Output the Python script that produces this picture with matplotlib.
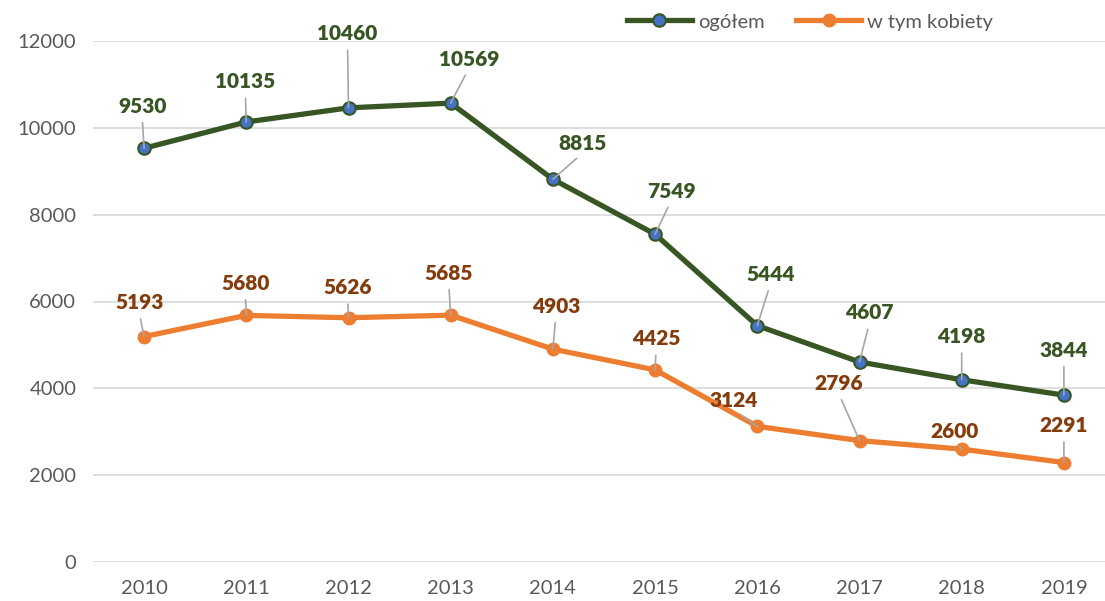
import matplotlib.pyplot as plt

# ========== DATA ==========
years = [2010, 2011, 2012, 2013, 2014, 2015, 2016, 2017, 2018, 2019]
total = [9530, 10135, 10460, 10569, 8815, 7549, 5444, 4607, 4198, 3844]
women = [5193, 5680, 5626, 5685, 4903, 4425, 3124, 2796, 2600, 2291]

# label offsets (pixels) from the point, like Excel's dragged data labels
total_off = [(-2, 42), (-1, 40), (-1, 74), (18, 44), (30, 36), (16, 43), (13, 51), (10, 49), (0, 43), (0, 45)]
women_off = [(-5, 34), (-1, 32), (-1, 30), (-2, 42), (3, 43), (1, 31), (-24, 26), (-21, 57), (-7, 18), (0, 37)]

COLORS = {
    'total': '#375623',
    'total_marker': '#4472C4',
    'women': '#ED7D31',
    'women_label': '#843C0C',
    'tick': '#595959',
    'grid': '#D9D9D9',
    'leader': '#A6A6A6',
}

plt.rcParams['font.family'] = ['Lato', 'DejaVu Sans']

fig = plt.figure(figsize=(11.05, 6.01), dpi=100)
ax = fig.add_axes([93 / 1105, 39 / 601, (1115 - 93) / 1105, 521 / 601])

x = list(range(len(years)))
ax.plot(x, total, color=COLORS['total'], lw=3.8, marker='o', ms=9,
        mfc=COLORS['total_marker'], mec=COLORS['total'], mew=1.5, label='ogółem', zorder=3)
ax.plot(x, women, color=COLORS['women'], lw=3.8, marker='o', ms=9,
        mfc=COLORS['women'], mec=COLORS['women'], label='w tym kobiety', zorder=3)


def add_labels(vals, offs, color):
    for i, (v, off) in enumerate(zip(vals, offs)):
        ax.annotate(str(v), xy=(i, v), xytext=off, textcoords='offset pixels',
                    ha='center', va='center', fontsize=15, fontweight='heavy', color=color,
                    arrowprops=dict(arrowstyle='-', color=COLORS['leader'], lw=1.2,
                                    relpos=(0.5, 0), shrinkA=3, shrinkB=0),
                    zorder=4, annotation_clip=False)


add_labels(total, total_off, COLORS['total'])
add_labels(women, women_off, COLORS['women_label'])

ax.set_xlim(-0.5, len(years) - 0.5)
ax.set_ylim(0, 12000)
ax.set_yticks(range(0, 12001, 2000))
ax.set_xticks(x)
ax.set_xticklabels([str(y) for y in years])
ax.tick_params(axis='both', length=0, labelsize=14.5, labelcolor=COLORS['tick'])
ax.tick_params(axis='x', pad=13)
ax.tick_params(axis='y', pad=12)
ax.grid(axis='y', color=COLORS['grid'], lw=1.2)
ax.set_axisbelow(True)
for s in ax.spines.values():
    s.set_visible(False)

leg = fig.legend(loc='center', bbox_to_anchor=(810 / 1105, 1 - 22 / 601), ncol=2,
                 frameon=False, fontsize=14.5, handlelength=3.2, columnspacing=1.6,
                 handletextpad=0.3)
for t in leg.get_texts():
    t.set_color(COLORS['tick'])

fig.savefig('out.png', dpi=100)
